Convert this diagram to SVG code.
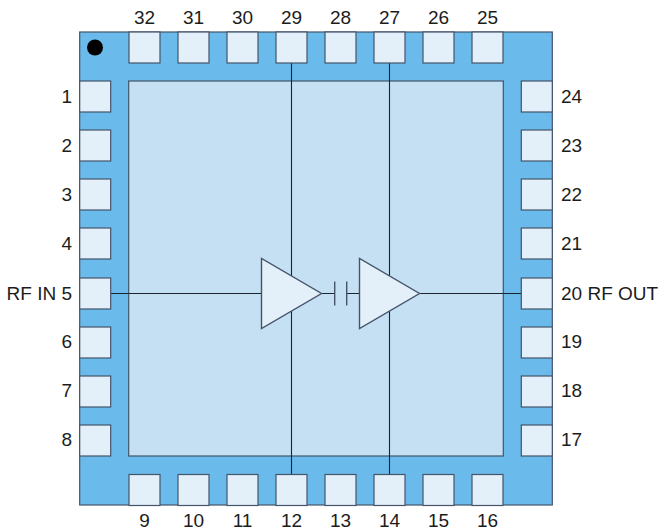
<svg xmlns="http://www.w3.org/2000/svg" width="658" height="531" viewBox="0 0 658 531">
<style>
.pad{fill:#e3eff9;stroke:#44546a;stroke-width:1.2}
.w{fill:none;stroke:#1a2430;stroke-width:1.1}
.amp{fill:#e3eff9;stroke:#44546a;stroke-width:1.4}
text{font-family:"Liberation Sans",Arial,sans-serif;font-size:19px;fill:#1c1c1c}
.m{text-anchor:middle}.e{text-anchor:end}
</style>
<defs><rect id="p" class="pad" width="31" height="31"/></defs>
<rect width="658" height="531" fill="#fff"/>
<g id="package"><rect x="79.700" y="32" width="472.600" height="473" fill="#6abbeb" stroke="#44546a" stroke-width="1.2"/></g>
<g id="die"><rect x="128.700" y="81" width="374.600" height="375" fill="#c5e0f3" stroke="#44546a" stroke-width="1.2"/></g>
<circle id="pin1-dot" cx="95" cy="47.500" r="8" fill="#000"/>
<g id="connectors">
<path class="w" d="M291.500 63V276M291.500 311V474M389.500 63V276M389.500 311V474M110.500 293.500H262M321 293.500H334.500M346.500 293.500H360M419.500 293.500H522"/>
<path d="M334.700 281.500V305.500M346.700 281.500V305.500" fill="none" stroke="#44546a" stroke-width="1.4"/>
</g>
<g id="amp1"><path class="amp" d="M261.500 258.500V328.500L321.500 293.500Z"/></g>
<g id="amp2"><path class="amp" d="M359.500 258.500V328.500L419.500 293.500Z"/></g>
<g id="pin32"><use href="#p" x="129" y="32"/><text class="m" x="144.500" y="23.500">32</text></g>
<g id="pin31"><use href="#p" x="178" y="32"/><text class="m" x="193.500" y="23.500">31</text></g>
<g id="pin30"><use href="#p" x="227" y="32"/><text class="m" x="242.500" y="23.500">30</text></g>
<g id="pin29"><use href="#p" x="276" y="32"/><text class="m" x="291.500" y="23.500">29</text></g>
<g id="pin28"><use href="#p" x="325" y="32"/><text class="m" x="340.500" y="23.500">28</text></g>
<g id="pin27"><use href="#p" x="374" y="32"/><text class="m" x="389.500" y="23.500">27</text></g>
<g id="pin26"><use href="#p" x="423" y="32"/><text class="m" x="438.500" y="23.500">26</text></g>
<g id="pin25"><use href="#p" x="472" y="32"/><text class="m" x="487.500" y="23.500">25</text></g>
<g id="pin9"><use href="#p" x="129" y="474.500"/><text class="m" x="144.500" y="526.500">9</text></g>
<g id="pin10"><use href="#p" x="178" y="474.500"/><text class="m" x="193.500" y="526.500">10</text></g>
<g id="pin11"><use href="#p" x="227" y="474.500"/><text class="m" x="242.500" y="526.500">11</text></g>
<g id="pin12"><use href="#p" x="276" y="474.500"/><text class="m" x="291.500" y="526.500">12</text></g>
<g id="pin13"><use href="#p" x="325" y="474.500"/><text class="m" x="340.500" y="526.500">13</text></g>
<g id="pin14"><use href="#p" x="374" y="474.500"/><text class="m" x="389.500" y="526.500">14</text></g>
<g id="pin15"><use href="#p" x="423" y="474.500"/><text class="m" x="438.500" y="526.500">15</text></g>
<g id="pin16"><use href="#p" x="472" y="474.500"/><text class="m" x="487.500" y="526.500">16</text></g>
<g id="pin1"><use href="#p" x="79.700" y="81"/><text class="e" x="72" y="102.500">1</text></g>
<g id="pin2"><use href="#p" x="79.700" y="130"/><text class="e" x="72" y="151.500">2</text></g>
<g id="pin3"><use href="#p" x="79.700" y="179"/><text class="e" x="72" y="200.500">3</text></g>
<g id="pin4"><use href="#p" x="79.700" y="228"/><text class="e" x="72" y="249.500">4</text></g>
<g id="pin5"><use href="#p" x="79.700" y="278"/><text class="e" x="72" y="299.500">RF IN 5</text></g>
<g id="pin6"><use href="#p" x="79.700" y="327"/><text class="e" x="72" y="347.500">6</text></g>
<g id="pin7"><use href="#p" x="79.700" y="376"/><text class="e" x="72" y="396.500">7</text></g>
<g id="pin8"><use href="#p" x="79.700" y="425"/><text class="e" x="72" y="445.500">8</text></g>
<g id="pin24"><use href="#p" x="521.300" y="81"/><text x="561" y="102.500">24</text></g>
<g id="pin23"><use href="#p" x="521.300" y="130"/><text x="561" y="151.500">23</text></g>
<g id="pin22"><use href="#p" x="521.300" y="179"/><text x="561" y="200.500">22</text></g>
<g id="pin21"><use href="#p" x="521.300" y="228"/><text x="561" y="249.500">21</text></g>
<g id="pin20"><use href="#p" x="521.300" y="278"/><text x="561" y="299.500">20 RF OUT</text></g>
<g id="pin19"><use href="#p" x="521.300" y="327"/><text x="561" y="347.500">19</text></g>
<g id="pin18"><use href="#p" x="521.300" y="376"/><text x="561" y="396.500">18</text></g>
<g id="pin17"><use href="#p" x="521.300" y="425"/><text x="561" y="445.500">17</text></g>
</svg>
